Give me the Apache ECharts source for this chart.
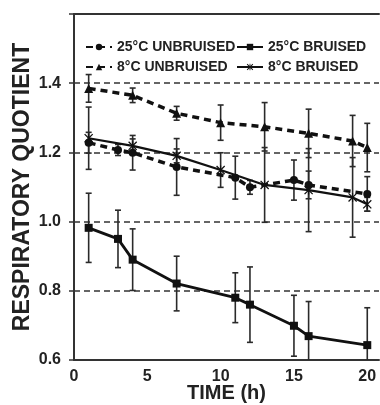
<!DOCTYPE html>
<html>
<head>
<meta charset="utf-8">
<script src="https://cdn.jsdelivr.net/npm/echarts@6/dist/echarts.min.js"></script>
<style>
  html, body { margin: 0; padding: 0; background: #fff; }
  #main { width: 380px; height: 405px; }
</style>
</head>
<body>
<div id="main"></div>
<script>
// sampling times (h)
const time25 = [1, 3, 4, 7, 11, 12, 15, 16, 20];
const time8 = [1, 4, 7, 10, 13, 16, 19, 20];

// respiratory quotient, mean and +/- error
const unbruised25 = [1.228, 1.207, 1.199, 1.158, 1.127, 1.099, 1.12, 1.106, 1.08];
const unbruised25Err = [0.03, 0.016, 0.05, 0.082, 0.062, 0.02, 0.058, 0.04, 0.05];
const bruised25 = [0.982, 0.95, 0.89, 0.821, 0.78, 0.76, 0.699, 0.669, 0.643];
const bruised25Err = [0.10, 0.083, 0.089, 0.079, 0.072, 0.109, 0.088, 0.10, 0.108];
const unbruised8 = [1.385, 1.365, 1.313, 1.286, 1.274, 1.255, 1.233, 1.214];
const unbruised8Err = [0.04, 0.021, 0.02, 0.051, 0.07, 0.07, 0.074, 0.07];
const bruised8 = [1.241, 1.219, 1.19, 1.149, 1.106, 1.091, 1.07, 1.05];
const bruised8Err = [0.09, 0.02, 0.02, 0.05, 0.108, 0.12, 0.115, 0.02];

const xTicks = [0, 5, 10, 15, 20];
const yTicks = [0.6, 0.8, 1.0, 1.2, 1.4];

const INK = '#111';
const AXIS = '#333';
const FONT = '"Liberation Sans", Arial, sans-serif';

const starSymbol = 'path://M0,1 L1,0 L10,9 L9,10 Z M9,0 L10,1 L1,10 L0,9 Z M4.4,0 L5.6,0 L5.6,10 L4.4,10 Z';

function pairs(xs, ys) {
    return xs.map((x, i) => [x, ys[i]]);
}

function errData(xs, ys, es) {
    return xs.map((x, i) => [x, ys[i] - es[i], ys[i] + es[i]]);
}

function renderErr(params, api) {
    const x = api.value(0);
    const lo = api.coord([x, api.value(1)]);
    const hi = api.coord([x, api.value(2)]);
    const cap = 3;
    const style = { stroke: '#2a2a2a', lineWidth: 1.6 };
    return {
        type: 'group',
        children: [
            { type: 'line', shape: { x1: lo[0], y1: lo[1], x2: hi[0], y2: hi[1] }, style: style },
            { type: 'line', shape: { x1: lo[0] - cap, y1: lo[1], x2: lo[0] + cap, y2: lo[1] }, style: style },
            { type: 'line', shape: { x1: hi[0] - cap, y1: hi[1], x2: hi[0] + cap, y2: hi[1] }, style: style }
        ]
    };
}

function errSeries(xs, ys, es) {
    return {
        type: 'custom',
        renderItem: renderErr,
        data: errData(xs, ys, es),
        clip: true,
        silent: true,
        z: 1,
        encode: { x: 0, y: [1, 2] }
    };
}

function lineSeries(name, xs, ys, symbol, size, dashed, width) {
    return {
        name: name,
        type: 'line',
        data: pairs(xs, ys),
        symbol: symbol,
        symbolSize: size,
        showSymbol: true,
        clip: true,
        z: 3,
        itemStyle: { color: INK },
        lineStyle: {
            color: INK,
            width: width,
            type: dashed ? [7, 5] : 'solid'
        }
    };
}

function legendAt(name, left, top) {
    return {
        data: [name],
        left: left,
        top: top,
        itemWidth: 26,
        itemHeight: 8,
        itemGap: 4,
        textStyle: { fontFamily: FONT, fontWeight: 'bold', fontSize: 14, color: '#222' }
    };
}

const chart = echarts.init(document.getElementById('main'), null, { renderer: 'canvas' });

const option = {
    animation: false,
    backgroundColor: '#fff',
    grid: { left: 74, right: 1, top: 14, bottom: 45, outerBoundsMode: 'none', containLabel: false },
    legend: [
        legendAt('25\u00b0C UNBRUISED', 80, 35),
        legendAt('25\u00b0C BRUISED', 231, 35),
        legendAt('8\u00b0C UNBRUISED', 80, 55),
        legendAt('8\u00b0C BRUISED', 231, 55)
    ],
    xAxis: [{
        type: 'value',
        min: 0,
        max: 20.8,
        interval: 5,
        name: 'TIME (h)',
        nameLocation: 'middle',
        nameMoveOverlap: false,
        nameGap: 23,
        nameTextStyle: { fontFamily: FONT, fontWeight: 'bold', fontSize: 20, color: '#222' },
        axisLine: { lineStyle: { color: AXIS, width: 2 } },
        axisTick: { show: false },
        axisLabel: {
            margin: 9,
            fontFamily: FONT, fontWeight: 'bold', fontSize: 16, color: '#222',
            formatter: v => xTicks.includes(v) ? String(v) : ''
        },
        splitLine: { show: false }
    }, {
        type: 'value',
        position: 'top',
        min: 0,
        max: 20.8,
        axisLine: { show: true, onZero: false, lineStyle: { color: AXIS, width: 2 } },
        axisTick: { show: false },
        axisLabel: { show: false },
        splitLine: { show: false }
    }],
    yAxis: {
        type: 'value',
        min: 0.6,
        max: 1.6,
        interval: 0.2,
        name: 'RESPIRATORY QUOTIENT',
        nameLocation: 'middle',
        nameMoveOverlap: false,
        nameGap: 40,
        nameTextStyle: { fontFamily: FONT, fontWeight: 'bold', fontSize: 23, color: '#222' },
        axisLine: { show: true, lineStyle: { color: AXIS, width: 2 } },
        axisTick: { show: true, length: 5, lineStyle: { color: AXIS, width: 1.5 } },
        axisLabel: {
            margin: 13,
            fontFamily: FONT, fontWeight: 'bold', fontSize: 16, color: '#222',
            formatter: v => {
                const t = yTicks.find(k => Math.abs(k - v) < 1e-6);
                return t === undefined ? '' : t.toFixed(1);
            }
        },
        splitLine: { show: true, lineStyle: { color: '#333', width: 1.5, type: [6, 4] } }
    },
    series: [
        errSeries(time25, unbruised25, unbruised25Err),
        errSeries(time25, bruised25, bruised25Err),
        errSeries(time8, unbruised8, unbruised8Err),
        errSeries(time8, bruised8, bruised8Err),
        lineSeries('25\u00b0C UNBRUISED', time25, unbruised25, 'circle', 8, true, 3.5),
        lineSeries('25\u00b0C BRUISED', time25, bruised25, 'rect', 8, false, 2.8),
        lineSeries('8\u00b0C UNBRUISED', time8, unbruised8, 'triangle', 9, true, 3.5),
        lineSeries('8\u00b0C BRUISED', time8, bruised8, starSymbol, 9, false, 2.2)
    ]
};

chart.setOption(option);
</script>
</body>
</html>
